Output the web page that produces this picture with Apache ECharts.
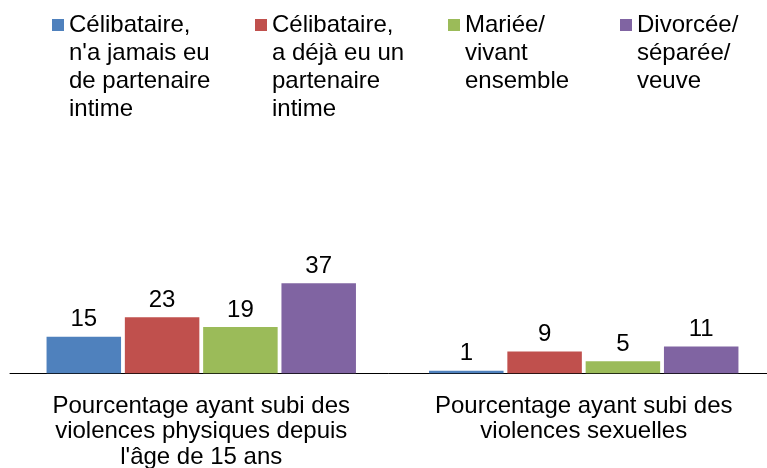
<!DOCTYPE html>
<html>
<head>
<meta charset="utf-8">
<script src="https://cdn.jsdelivr.net/npm/echarts@6/dist/echarts.min.js"></script>
<style>
  html, body { margin: 0; padding: 0; background: #fff; }
  #chart { width: 767px; height: 468px; }
</style>
</head>
<body>
<div id="chart"></div>
<script>
// Categories (axis labels, wrapped as displayed)
const categories = [
  "Pourcentage ayant subi des\nviolences physiques depuis\nl'âge de 15 ans",
  "Pourcentage ayant subi des\nviolences sexuelles"
];

// Marital status groups
const seriesNames = [
  "Célibataire, n'a jamais eu de partenaire intime",
  "Célibataire, a déjà eu un partenaire intime",
  "Mariée/ vivant ensemble",
  "Divorcée/ séparée/ veuve"
];

// Legend text, line by line
const legendLines = [
  ["Célibataire,", "n'a jamais eu", "de partenaire", "intime"],
  ["Célibataire,", "a déjà eu un", "partenaire", "intime"],
  ["Mariée/", "vivant", "ensemble"],
  ["Divorcée/", "séparée/", "veuve"]
];

// Percentages
const neverPartner = [15, 1];
const hadPartner = [23, 9];
const married = [19, 5];
const divorced = [37, 11];

const seriesValues = [neverPartner, hadPartner, married, divorced];
const colors = ['#4F81BD', '#C0504D', '#9BBB59', '#8064A2'];

const FONT = '"Liberation Sans", Arial, sans-serif';
const LEGEND_LH = 28;
const ICON = 12;
const legendLeft = [52, 255, 448, 620];

// Square icon sitting on the first text line; tiny corner marks fix the path bounds
function legendIcon(lines) {
  const h = lines * LEGEND_LH;
  const y = LEGEND_LH / 2 - ICON / 2;
  return 'path://M0,0h0.01v0.01h-0.01z' +
    'M0,' + y + 'h' + ICON + 'v' + ICON + 'h-' + ICON + 'z' +
    'M' + (ICON - 0.01) + ',' + (h - 0.01) + 'h0.01v0.01h-0.01z';
}

const legends = seriesNames.map((name, i) => ({
  data: [name],
  orient: 'horizontal',
  left: legendLeft[i],
  top: 11,
  padding: 0,
  itemWidth: ICON,
  itemHeight: legendLines[i].length * LEGEND_LH,
  icon: legendIcon(legendLines[i].length),
  selectedMode: false,
  formatter: () => legendLines[i].join('\n'),
  textStyle: {
    fontFamily: FONT,
    fontSize: 24,
    lineHeight: LEGEND_LH,
    color: '#000',
    padding: [0, 0, 0, 0]
  }
}));

const chart = echarts.init(document.getElementById('chart'), null, { renderer: 'canvas' });

chart.setOption({
  animation: false,
  backgroundColor: '#fff',
  legend: legends,
  grid: {
    left: 10, top: 276, width: 765, height: 97.3,
    containLabel: false,
    outerBoundsMode: 'none'
  },
  xAxis: {
    type: 'category',
    data: categories,
    axisLine: { show: true, lineStyle: { color: '#000', width: 1 } },
    axisTick: { show: false },
    axisLabel: {
      fontFamily: FONT,
      fontSize: 24,
      lineHeight: 25.5,
      color: '#000',
      margin: 20,
      interval: 0
    }
  },
  yAxis: {
    type: 'value',
    min: 0,
    max: 40,
    show: false,
    splitLine: { show: false }
  },
  series: seriesNames.map((name, i) => ({
    name: name,
    type: 'bar',
    data: seriesValues[i],
    barWidth: 74.5,
    barGap: '5.1%',
    itemStyle: { color: colors[i] },
    label: {
      show: true,
      position: 'top',
      distance: 5,
      fontFamily: FONT,
      fontSize: 24,
      color: '#000'
    }
  }))
});
</script>
</body>
</html>
